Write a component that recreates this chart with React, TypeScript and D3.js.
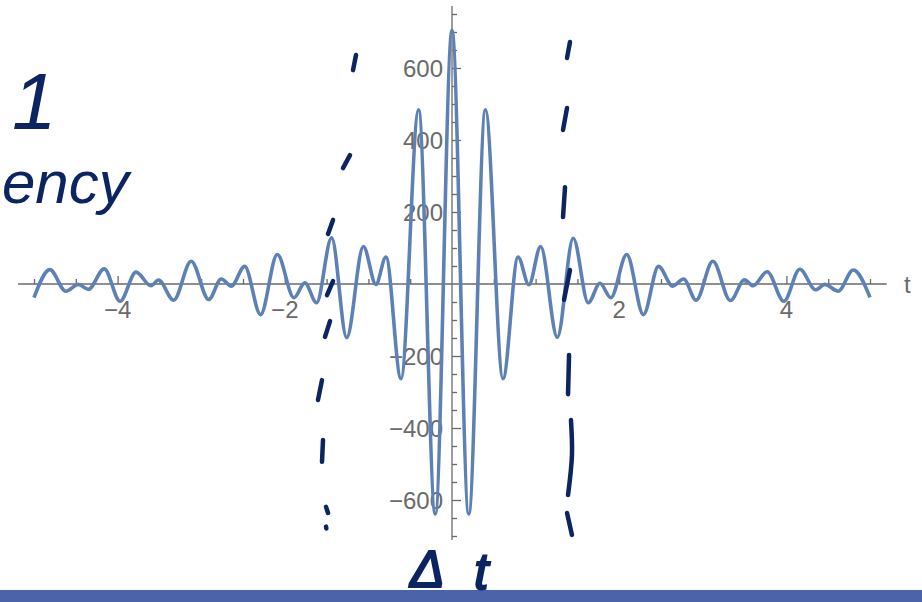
import React, { useEffect, useRef } from 'react';
import * as d3 from 'd3';

// extrema of the signal (t, amplitude)
const extremaTimes = [
  -5.0, -4.81, -4.62, -4.47, -4.35, -4.16, -3.97, -3.78, -3.6, -3.51, -3.33,
  -3.12, -2.91, -2.76, -2.64, -2.48, -2.29, -2.09, -1.89, -1.76, -1.62, -1.44,
  -1.26, -1.06, -0.91, -0.79, -0.61, -0.4, -0.2, 0,
  0.2, 0.4, 0.61, 0.79, 0.92, 1.06, 1.26, 1.45, 1.63, 1.77, 1.9, 2.09, 2.29,
  2.47, 2.64, 2.77, 2.92, 3.12, 3.33, 3.5, 3.6, 3.77, 3.97, 4.16, 4.35, 4.46,
  4.62, 4.8, 5.0
];
const extremaValues = [
  -38, 40, -20, -1, -15, 42, -48, 33, -5, 11, -45,
  63, -43, 14, -6, 49, -85, 82, -38, 3, -52, 128,
  -149, 104, -1, 75, -263, 484, -639, 705,
  -639, 484, -263, 75, -2, 104, -148, 127, -52, 2, -38, 82, -85,
  49, -6, 14, -45, 63, -46, 12, -5, 34, -48, 41, -16, -1,
  -20, 39, -37
];

const xLabelTicks = [-4, -2, 2, 4];
const xMinorTicks = [-5, -4.5, -3.5, -3, -2.5, -1.5, -1, -0.5, 0.5, 1, 1.5, 2.5, 3, 3.5, 4.5, 5];
const yLabelTicks = [-600, -400, -200, 200, 400, 600];
const yMinorTicks = [-700, -650, -550, -500, -450, -350, -300, -250, -150, -100, -50,
  50, 100, 150, 250, 300, 350, 450, 500, 550, 650, 700, 750];

// hand-drawn dashed markers (t, amplitude)
const leftMarks = [
  [[-1.148, 636], [-1.184, 594]],
  [[-1.22, 358], [-1.304, 322]],
  [[-1.423, 178], [-1.483, 139]],
  [[-1.423, 8], [-1.495, -31]],
  [[-1.459, -103], [-1.519, -147]],
  [[-1.555, -267], [-1.603, -322]],
  [[-1.543, -433], [-1.555, -494]],
  [[-1.507, -619], [-1.483, -636]],
  [[-1.507, -674], [-1.503, -679]]
];
const rightMarks = [
  [[1.411, 672], [1.376, 628]],
  [[1.376, 489], [1.328, 428]],
  [[1.352, 269], [1.328, 186]],
  [[1.411, 39], [1.34, -44]],
  [[1.4, -197], [1.388, -306]],
  [[1.423, -378], [1.435, -475], [1.388, -586]],
  [[1.376, -636], [1.435, -697]]
];

const AXIS = '#6a6a6a';
const INK = '#0c2461';

function SignalPlot() {
  const svgRef = useRef(null);

  useEffect(() => {
    const svg = d3.select(svgRef.current);
    svg.selectAll('*').remove();

    const x = d3.scaleLinear().domain([-5, 5]).range([34, 870]);
    const y = d3.scaleLinear().domain([-700, 750]).range([536, 14]);
    const x0 = x(0);
    const y0 = y(0);

    svg.append('rect')
      .attr('x', 0).attr('y', 590)
      .attr('width', 922).attr('height', 12)
      .attr('fill', '#4b63a9');

    // x axis
    svg.append('line')
      .attr('x1', x(-5.19)).attr('x2', x(5.2))
      .attr('y1', y0).attr('y2', y0)
      .attr('stroke', AXIS).attr('stroke-width', 1.3);
    const xa = svg.append('g').attr('transform', `translate(0,${y0})`);
    xa.call(d3.axisTop(x).tickValues(xMinorTicks).tickSize(5).tickSizeOuter(0).tickFormat(() => ''));
    xa.call(g => g.select('.domain').remove());
    const xb = svg.append('g').attr('transform', `translate(0,${y0})`);
    xb.call(d3.axisTop(x).tickValues(xLabelTicks).tickSize(8).tickSizeOuter(0).tickFormat(() => ''));
    xb.call(g => g.select('.domain').remove());

    // y axis
    svg.append('line')
      .attr('x1', x0).attr('x2', x0)
      .attr('y1', y(772)).attr('y2', y(-711))
      .attr('stroke', AXIS).attr('stroke-width', 1.3);
    const ya = svg.append('g').attr('transform', `translate(${x0},0)`);
    ya.call(d3.axisRight(y).tickValues(yMinorTicks).tickSize(5).tickSizeOuter(0).tickFormat(() => ''));
    ya.call(g => g.select('.domain').remove());
    const yb = svg.append('g').attr('transform', `translate(${x0},0)`);
    yb.call(d3.axisRight(y).tickValues(yLabelTicks).tickSize(9).tickSizeOuter(0).tickFormat(() => ''));
    yb.call(g => g.select('.domain').remove());

    svg.selectAll('.tick line').attr('stroke', AXIS).attr('stroke-width', 1.3);

    const fmt = (v) => (v < 0 ? '\u2212' + Math.abs(v) : String(v));

    svg.append('g')
      .selectAll('text')
      .data(xLabelTicks)
      .join('text')
      .attr('x', d => x(d))
      .attr('y', y0 + 34)
      .attr('text-anchor', 'middle')
      .attr('font-family', 'Liberation Sans, Arial, sans-serif')
      .attr('font-size', 24)
      .attr('fill', AXIS)
      .text(fmt);

    svg.append('g')
      .selectAll('text')
      .data(yLabelTicks)
      .join('text')
      .attr('x', x0 - 9)
      .attr('y', d => y(d) + 8.5)
      .attr('text-anchor', 'end')
      .attr('font-family', 'Liberation Sans, Arial, sans-serif')
      .attr('font-size', 24)
      .attr('fill', AXIS)
      .text(fmt);

    svg.append('text')
      .attr('x', 904)
      .attr('y', y0 + 9)
      .attr('font-family', 'Liberation Sans, Arial, sans-serif')
      .attr('font-size', 24)
      .attr('fill', AXIS)
      .text('t');

    // signal
    const line = d3.line()
      .x((d, i) => x(extremaTimes[i]))
      .y(d => y(d))
      .curve(d3.curveMonotoneX);

    svg.append('path')
      .datum(extremaValues)
      .attr('fill', 'none')
      .attr('stroke', '#5e81b5')
      .attr('stroke-width', 3.6)
      .attr('stroke-linejoin', 'round')
      .attr('d', line);

    // hand annotations
    const ink = d3.line()
      .x(d => x(d[0]))
      .y(d => y(d[1]))
      .curve(d3.curveCatmullRom);

    svg.append('g')
      .selectAll('path')
      .data(leftMarks.concat(rightMarks))
      .join('path')
      .attr('fill', 'none')
      .attr('stroke', INK)
      .attr('stroke-width', 4.5)
      .attr('stroke-linecap', 'round')
      .attr('d', ink);

    const hand = svg.append('g')
      .attr('fill', INK)
      .attr('font-family', 'Liberation Sans, Arial, sans-serif')
      .attr('font-style', 'italic');

    hand.append('text')
      .attr('x', 2).attr('y', 203)
      .attr('font-size', 60)
      .text('ency');

    hand.append('text')
      .attr('x', 12).attr('y', 129)
      .attr('font-size', 80)
      .text('1');

    const dt = hand.append('text')
      .attr('y', 587)
      .attr('font-size', 52)
      .attr('stroke', INK)
      .attr('stroke-width', 2);
    dt.append('tspan').attr('x', 410).text('\u0394');
    dt.append('tspan').attr('x', 474).attr('dy', 2).text('t');
  }, []);

  return <svg ref={svgRef} width={922} height={602} style={{ display: 'block', background: '#fff' }} />;
}

export default function App() {
  return (
    <div style={{ position: 'absolute', left: 0, top: 0, width: 922, height: 602, overflow: 'hidden' }}>
      <SignalPlot />
    </div>
  );
}
